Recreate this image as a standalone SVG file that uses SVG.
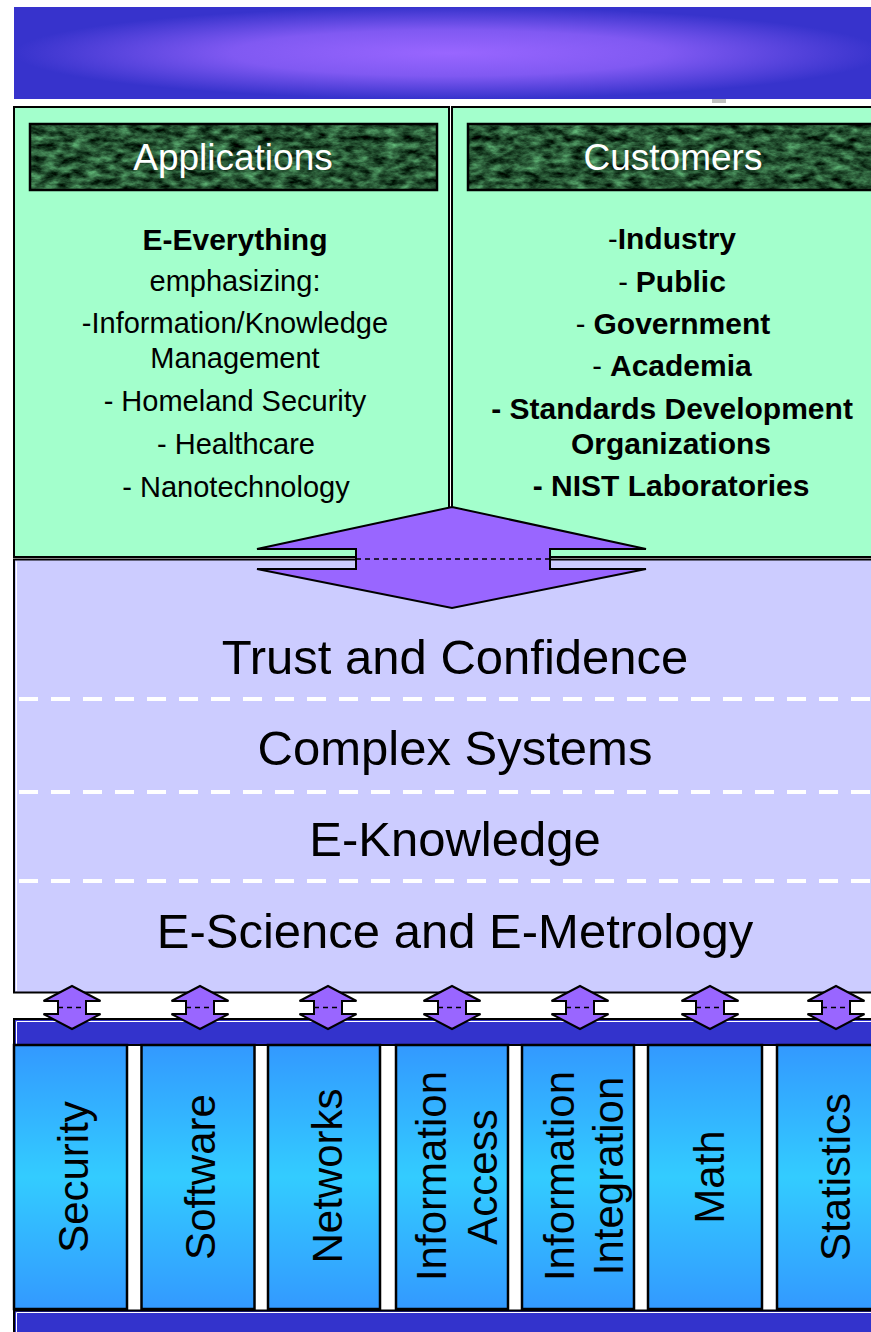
<svg xmlns="http://www.w3.org/2000/svg" width="871" height="1332" viewBox="0 0 871 1332">
  <style>
    .txt { font-family: "Liberation Sans", Arial, sans-serif; fill: #000; }
    .small { font-size: 29px; text-anchor: middle; }
    .bold { font-weight: bold; font-size: 30px; }
    .head { font-family: "Liberation Sans", Arial, sans-serif; font-size: 37px; fill: #fff; text-anchor: middle; }
    .layer { font-family: "Liberation Sans", Arial, sans-serif; font-size: 49px; text-anchor: middle; fill: #000; }
    .col { font-family: "Liberation Sans", Arial, sans-serif; font-size: 42px; text-anchor: middle; fill: #000; }
    .frame { stroke: #000; stroke-width: 2; }
    .sep { stroke: #fff; stroke-width: 4; stroke-dasharray: 19 13; fill: none; }
    .pillar { fill: url(#pillarFill); stroke: #000; stroke-width: 2.5; }
    .bar { fill: #3333cc; stroke: #000; stroke-width: 2; }
    .arrow { fill: #9966ff; stroke: #000; stroke-width: 2; stroke-linejoin: miter; }
    .dash { stroke: #000; stroke-width: 1.5; stroke-dasharray: 5 4; fill: none; }
  </style>
  <defs>
    <radialGradient id="bannerFill" cx="0.5" cy="0.5" r="0.5">
      <stop offset="0" stop-color="#9966ff"/>
      <stop offset="0.5" stop-color="#8059f2"/>
      <stop offset="1" stop-color="#3733cc"/>
    </radialGradient>
    <linearGradient id="pillarFill" x1="0" y1="0" x2="0" y2="1">
      <stop offset="0" stop-color="#3399ff"/>
      <stop offset="0.5" stop-color="#33ccff"/>
      <stop offset="1" stop-color="#3399ff"/>
    </linearGradient>
    <!-- dark green marble texture for the panel headings -->
    <filter id="marble" x="0" y="0" width="100%" height="100%" color-interpolation-filters="sRGB">
      <feTurbulence type="fractalNoise" baseFrequency="0.07 0.14" numOctaves="4" seed="7" result="noise"/>
      <feColorMatrix in="noise" type="matrix" values="0.6 0 0 0 -0.15  1.0 0 0 0 -0.17  0.7 0 0 0 -0.15  0 0 0 0 1" result="tint"/>
      <feComposite in="tint" in2="SourceGraphic" operator="in"/>
    </filter>
    <!-- small two-way arrow between the layers and the base bar -->
    <g id="miniArrow">
      <polygon class="arrow" points="0,-21.5 28.5,-6.5 14,-6.5 14,6.5 28.5,6.5 0,21.5 -28.5,6.5 -14,6.5 -14,-6.5 -28.5,-6.5"/>
      <line class="dash" x1="-14" y1="0" x2="14" y2="0" stroke-width="2"/>
    </g>
  </defs>

  <rect width="871" height="1332" fill="#fff"/>

  <!-- title banner -->
  <g id="banner">
    <rect x="14" y="7" width="870" height="92" fill="url(#bannerFill)"/>
    <rect x="712" y="99" width="14" height="4" fill="#c0c0c0"/>
  </g>

  <!-- applications panel -->
  <g id="applications">
    <rect class="frame" x="14" y="107" width="435" height="450" fill="#a3ffcc"/>
    <rect x="30" y="124" width="407" height="66" fill="#235c3c" filter="url(#marble)"/>
    <rect x="30" y="124" width="407" height="66" fill="none" stroke="#000" stroke-width="2.5"/>
    <text class="head" x="233" y="170">Applications</text>
    <text class="txt small bold" x="235" y="250">E-Everything</text>
    <text class="txt small" x="235" y="291">emphasizing:</text>
    <text class="txt small" x="235" y="333">-Information/Knowledge</text>
    <text class="txt small" x="235" y="368">Management</text>
    <text class="txt small" x="235" y="411">- Homeland Security</text>
    <text class="txt small" x="236" y="454">- Healthcare</text>
    <text class="txt small" x="236" y="497">- Nanotechnology</text>
  </g>

  <!-- customers panel -->
  <g id="customers">
    <rect class="frame" x="452" y="107" width="430" height="450" fill="#a3ffcc"/>
    <rect x="468" y="124" width="420" height="66" fill="#235c3c" filter="url(#marble)"/>
    <rect x="468" y="124" width="420" height="66" fill="none" stroke="#000" stroke-width="2.5"/>
    <text class="head" x="673" y="170">Customers</text>
    <text class="txt small" x="672" y="249"><tspan>-</tspan><tspan class="bold">Industry</tspan></text>
    <text class="txt small" x="672" y="292"><tspan>- </tspan><tspan class="bold">Public</tspan></text>
    <text class="txt small" x="673" y="334"><tspan>- </tspan><tspan class="bold">Government</tspan></text>
    <text class="txt small" x="672" y="376"><tspan>- </tspan><tspan class="bold">Academia</tspan></text>
    <text class="txt small bold" x="672" y="419">- Standards Development</text>
    <text class="txt small bold" x="671" y="454">Organizations</text>
    <text class="txt small bold" x="671" y="496">- NIST Laboratories</text>
  </g>

  <!-- stacked capability layers -->
  <g id="layers">
    <rect class="frame" x="14" y="559.5" width="870" height="433" fill="#ccccff"/>
    <line x1="16.5" y1="561.5" x2="16.5" y2="991" stroke="#fff" stroke-width="1"/>
    <line class="sep" x1="19" y1="699" x2="871" y2="699"/>
    <line class="sep" x1="19" y1="792" x2="871" y2="792"/>
    <line class="sep" x1="19" y1="881" x2="871" y2="881"/>
  </g>
  <g id="trust"><text class="layer" x="455" y="674" font-size="50">Trust and Confidence</text></g>
  <g id="complex-systems"><text class="layer" x="455" y="765">Complex Systems</text></g>
  <g id="e-knowledge"><text class="layer" x="455" y="856">E-Knowledge</text></g>
  <g id="e-science"><text class="layer" x="455" y="948">E-Science and E-Metrology</text></g>

  <!-- base bar under the arrows -->
  <g id="base-bar">
    <rect class="bar" x="14" y="1019" width="870" height="26"/>
    <polyline points="16.5,1044 16.5,1021.5 871,1021.5" fill="none" stroke="#fff" stroke-width="1"/>
  </g>

  <!-- discipline pillars -->
  <g id="security">
    <rect class="pillar" x="14" y="1045" width="113" height="264"/>
    <text class="col" transform="translate(88,1177) rotate(-90)">Security</text>
  </g>
  <g id="software">
    <rect class="pillar" x="141.5" y="1045" width="113" height="264"/>
    <text class="col" transform="translate(215,1177) rotate(-90)">Software</text>
  </g>
  <g id="networks">
    <rect class="pillar" x="268" y="1045" width="112" height="264"/>
    <text class="col" transform="translate(342,1176) rotate(-90)">Networks</text>
  </g>
  <g id="information-access">
    <rect class="pillar" x="396" y="1045" width="112" height="264"/>
    <text class="col" transform="translate(446,1176) rotate(-90)">Information</text>
    <text class="col" transform="translate(497,1177) rotate(-90)">Access</text>
  </g>
  <g id="information-integration">
    <rect class="pillar" x="522" y="1045" width="112" height="264"/>
    <text class="col" transform="translate(574,1176) rotate(-90)">Information</text>
    <text class="col" transform="translate(623,1176) rotate(-90)">Integration</text>
  </g>
  <g id="math">
    <rect class="pillar" x="648" y="1045" width="114" height="264"/>
    <text class="col" transform="translate(724,1177) rotate(-90)">Math</text>
  </g>
  <g id="statistics">
    <rect class="pillar" x="777" y="1045" width="110" height="264"/>
    <text class="col" transform="translate(850,1177) rotate(-90)">Statistics</text>
  </g>

  <!-- bottom bar -->
  <g id="bottom-bar">
    <rect class="bar" x="14" y="1310.5" width="870" height="30"/>
    <polyline points="16.5,1332 16.5,1312.5 871,1312.5" fill="none" stroke="#fff" stroke-width="1"/>
  </g>

  <!-- two-way connectors -->
  <g id="connectors">
    <polygon class="arrow" points="452,507 646,549 550,549 550,569 646,569 452,608 257,569 356,569 356,549 257,549"/>
    <line class="dash" x1="356" y1="559" x2="550" y2="559"/>
    <use href="#miniArrow" x="72" y="1007.5"/>
    <use href="#miniArrow" x="200" y="1007.5"/>
    <use href="#miniArrow" x="328" y="1007.5"/>
    <use href="#miniArrow" x="452" y="1007.5"/>
    <use href="#miniArrow" x="580" y="1007.5"/>
    <use href="#miniArrow" x="710" y="1007.5"/>
    <use href="#miniArrow" x="836" y="1007.5"/>
  </g>
</svg>
